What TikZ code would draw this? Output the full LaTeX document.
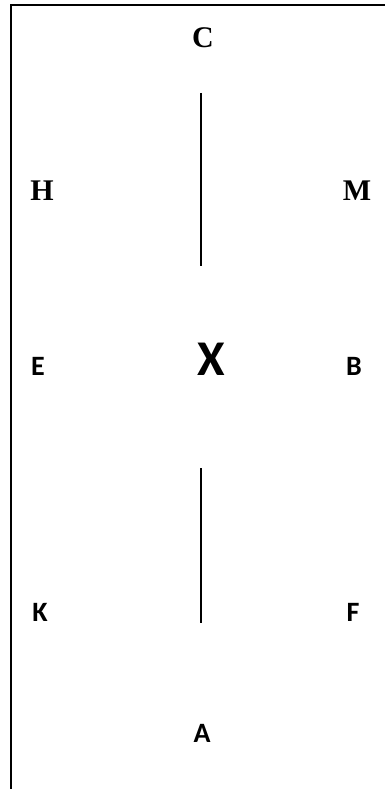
\documentclass[tikz,border=0pt]{standalone}
\usepackage{fontspec}
\setmainfont{Liberation Serif}
\newfontfamily\calib{Carlito}
\begin{document}
\begin{tikzpicture}[x=1pt,y=-1pt,
  serifl/.style={font=\fontsize{30}{30}\selectfont\bfseries, inner sep=0pt, anchor=center},
  sansl/.style={font=\calib\fontsize{28}{28}\selectfont\bfseries, inner sep=0pt, anchor=center},
  bigl/.style={font=\calib\fontsize{50}{50}\selectfont\bfseries, inner sep=0pt, anchor=center},
  rule/.style={line width=1.2pt, black}]
\useasboundingbox (0,0) rectangle (385,789);
\coordinate (tl) at (11,5);
\coordinate (tr) at (385,5);
\coordinate (bl) at (11,789);
\draw[rule] (tr) -- (tl) -- (bl);
\coordinate (u1) at (201,93);
\coordinate (u2) at (201,266);
\coordinate (d1) at (201,468);
\coordinate (d2) at (201,623);
\draw[rule] (u1) -- (u2);
\draw[rule] (d1) -- (d2);
\node[serifl] (C) at (203,38) {C};
\node[serifl] (H) at (42,191) {H};
\node[serifl] (M) at (357,191) {M};
\node[sansl] (E) at (38,366) {E};
\node[bigl] (X) at (211,359) {X};
\node[sansl] (B) at (354,366) {B};
\node[sansl] (K) at (40,612) {K};
\node[sansl] (F) at (353,612) {F};
\node[sansl] (A) at (202,733) {A};
\end{tikzpicture}
\end{document}
